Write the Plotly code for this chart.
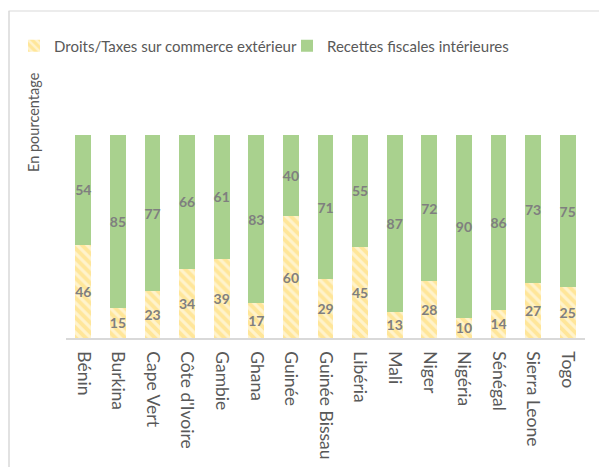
import plotly.graph_objects as go

countries = ["Bénin", "Burkina", "Cape Vert", "Côte d'Ivoire", "Gambie", "Ghana", "Guinée",
             "Guinée Bissau", "Libéria", "Mali", "Niger", "Nigéria", "Sénégal", "Sierra Leone", "Togo"]
droits = [46, 15, 23, 34, 39, 17, 60, 29, 45, 13, 28, 10, 14, 27, 25]
recettes = [54, 85, 77, 66, 61, 83, 40, 71, 55, 87, 72, 90, 86, 73, 75]

FONT = "Lato, Open Sans, sans-serif"
LBL = dict(family=FONT, size=14, color="#7F7F7F", weight="bold")

fig = go.Figure()
fig.add_trace(go.Bar(
    x=countries, y=droits, name="Droits/Taxes sur commerce extérieur",
    marker=dict(color="#FFE699", line=dict(width=0),
                pattern=dict(shape="\\", fgcolor="white", size=7, solidity=0.45)),
    text=droits, textposition="inside", insidetextanchor="middle",
    textfont=LBL, textangle=0,
))
fig.add_trace(go.Bar(
    x=countries, y=recettes, name="Recettes fiscales intérieures",
    marker=dict(color="#A9D18E", line=dict(width=0)),
    text=recettes, textposition="inside", insidetextanchor="middle",
    textfont=LBL, textangle=0,
))

# the page places the figure 8px from the top-left corner of the window
OFF = 8
W, H = 599, 459
L, R, T, B = 58, 22, 127, 129
pw, ph = W - L - R, H - T - B

def px(x):  # screen x -> paper
    return (x - OFF - L) / pw

def py(y):  # screen y -> paper
    return (H - B - (y - OFF)) / ph

fig.update_layout(
    width=W, height=H, barmode="stack", bargap=0.54,
    margin=dict(l=L, r=R, t=T, b=B, autoexpand=False),
    paper_bgcolor="white", plot_bgcolor="white",
    font=dict(family=FONT, color="#595959"),
    uniformtext=dict(mode="show", minsize=14),
    legend=dict(orientation="h", x=px(14), y=py(46), xanchor="left", yanchor="middle",
                font=dict(size=15, color="#595959", family=FONT),
                itemwidth=30, entrywidth=228, entrywidthmode="pixels",
                traceorder="normal", bgcolor="rgba(0,0,0,0)"),
    xaxis=dict(tickangle=90, tickfont=dict(size=17.5, color="#595959"), showline=True,
               linecolor="#D9D9D9", linewidth=1.5, ticks="outside", ticklen=8,
               tickcolor="rgba(0,0,0,0)", showgrid=False),
    yaxis=dict(range=[0, 100], visible=False, showgrid=False),
    shapes=[
        dict(type="line", xref="paper", yref="paper", x0=px(8.5), x1=px(603),
             y0=py(11), y1=py(11), line=dict(color="#D9D9D9", width=1), layer="below"),
        dict(type="line", xref="paper", yref="paper", x0=px(9), x1=px(9),
             y0=py(11), y1=py(480), line=dict(color="#D9D9D9", width=1.5), layer="below"),
    ],
    annotations=[dict(text="En pourcentage", xref="paper", yref="paper", x=px(33), y=py(122),
                      showarrow=False, textangle=-90,
                      font=dict(size=14.5, color="#595959", family=FONT),
                      xanchor="center", yanchor="middle")],
)

fig.write_html("out.html")
